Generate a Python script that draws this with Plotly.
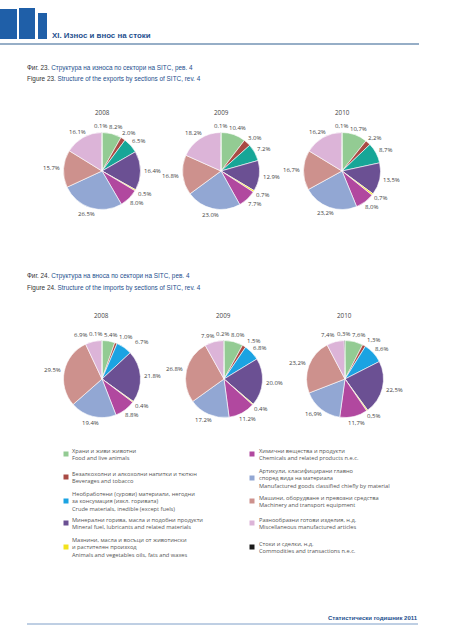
import math
import plotly.graph_objects as go

W, H = 452, 640

categories = ["Food", "Beverages", "Crude", "Mineral", "Oils", "Chemicals",
              "Manufactured", "Machinery", "Misc", "Commodities"]
years = ["2008", "2009", "2010"]

exp_2008 = [8.2, 2.0, 6.5, 16.4, 0.5, 8.0, 26.5, 15.7, 16.1, 0.1]
exp_2009 = [10.4, 3.0, 7.2, 12.9, 0.7, 7.7, 23.0, 16.8, 18.2, 0.1]
exp_2010 = [10.7, 2.2, 8.7, 13.5, 0.7, 8.0, 23.2, 16.7, 16.2, 0.1]

imp_2008 = [5.4, 1.0, 6.7, 21.8, 0.4, 8.8, 19.4, 29.5, 6.9, 0.1]
imp_2009 = [8.0, 1.5, 6.8, 20.0, 0.4, 11.2, 17.2, 26.8, 7.9, 0.2]
imp_2010 = [7.6, 1.3, 8.6, 22.5, 0.5, 11.7, 16.9, 23.2, 7.4, 0.3]

decimal_comma = {"2008": False, "2009": False, "2010": True}

legend_bg = ["Храни и живи животни", "Безалкохолни и алкохолни напитки и тютюн",
             "Необработени (сурови) материали, негодни<br>за консумация (изкл. горивата)",
             "Минерални горива, масла и подобни продукти",
             "Мазнини, масла и восъци от животински<br>и растителен произход",
             "Химични вещества и продукти",
             "Артикули, класифицирани главно<br>според вида на материала",
             "Машини, оборудване и превозни средства",
             "Разнообразни готови изделия, н.д.",
             "Стоки и сделки, н.д."]
legend_en = ["Food and live animals", "Beverages and tobacco",
             "Crude materials, inedible (except fuels)",
             "Mineral fuel, lubricants and related materials",
             "Animals and vegetables oils, fats and waxes",
             "Chemicals and related products n.e.c.",
             "Manufactured goods classified chiefly by material",
             "Machinery and transport equipment",
             "Miscellaneous manufactured articles",
             "Commodities and transactions n.e.c."]

colors_exp = ["#93cb93", "#a94a44", "#17a697", "#6b5093", "#f2e21c", "#b1489f",
              "#92a7d3", "#cd918d", "#dcb4d8", "#1a1a1a"]
colors_imp = ["#93cb93", "#a94a44", "#1ba3e2", "#6b5093", "#f2e21c", "#b1489f",
              "#92a7d3", "#cd918d", "#dcb4d8", "#1a1a1a"]

LBL_FONT = "Open Sans, Noto Sans, sans-serif"
LBL_SIZE = 6
NARROW = "Liberation Sans, Arial, sans-serif"
DARKBLUE = "#1d4f8e"


def px(x):
    return x / W


def py(y):
    return 1 - y / H


fig = go.Figure()
annotations = []
shapes = []


def fmt(v, comma):
    s = f"{v:.1f}%"
    return s.replace(".", ",") if comma else s


def text_width(txt):
    w = 0.0
    for ch in txt:
        if ch.isdigit():
            w += 0.572
        elif ch in ".,":
            w += 0.27
        else:
            w += 0.86
    return w * LBL_SIZE


def add_pie(values, colors, year, cx, cy, r):
    fig.add_trace(go.Pie(
        labels=categories, values=values, sort=False, direction="clockwise",
        rotation=0, marker=dict(colors=colors, line=dict(color="white", width=0.6)),
        textinfo="none", hole=0, showlegend=False,
        domain=dict(x=[px(cx - r), px(cx + r)], y=[py(cy + r), py(cy - r)]),
    ))
    # outside percentage labels around each slice's mid-angle (Excel "outside end")
    total = sum(values)
    cum = 0.0
    boxes = []
    for v in values:
        theta = 2 * math.pi * (cum + v / 2) / total
        cum += v
        s, c = math.sin(theta), math.cos(theta)
        txt = fmt(v, decimal_comma[year])
        w = text_width(txt)
        h = 6.0
        d = r + 3.5
        bx = cx + d * s + (w / 2) * s
        by = cy - d * c - (h / 2) * c
        boxes.append([bx, by, w, h, c, txt])
    # simple overlap relaxation
    for _ in range(80):
        moved = False
        for i in range(len(boxes)):
            for j in range(i + 1, len(boxes)):
                a, b = boxes[i], boxes[j]
                ox = (a[2] + b[2]) / 2 + 1.5 - abs(a[0] - b[0])
                oy = (a[3] + b[3]) / 2 - 0.5 - abs(a[1] - b[1])
                if ox > 0 and oy > 0:
                    moved = True
                    if abs(a[4]) > 0.5 and abs(b[4]) > 0.5:
                        sgn = 1 if a[0] >= b[0] else -1
                        a[0] += sgn * (ox / 2 + 0.1)
                        b[0] -= sgn * (ox / 2 + 0.1)
                    else:
                        sgn = 1 if a[1] >= b[1] else -1
                        a[1] += sgn * (oy / 2 + 0.1)
                        b[1] -= sgn * (oy / 2 + 0.1)
        if not moved:
            break
    for bx, by, w, h, c, txt in boxes:
        annotations.append(dict(text=txt, x=px(bx), y=py(by), xanchor="center",
                                yanchor="middle", showarrow=False, borderpad=0,
                                font=dict(family=LBL_FONT, size=LBL_SIZE, color="#444")))


exp_sets = [exp_2008, exp_2009, exp_2010]
imp_sets = [imp_2008, imp_2009, imp_2010]
exp_cx = [102, 221, 342]
imp_cx = [102, 224, 345]
R = 38.5
for i, y in enumerate(years):
    add_pie(exp_sets[i], colors_exp, y, exp_cx[i], 171, R)
    add_pie(imp_sets[i], colors_imp, y, imp_cx[i], 379, R)

# header bars
for x0, x1, y0 in [(0, 17, 9), (19, 35, 8), (38, 47, 13)]:
    shapes.append(dict(type="rect", xref="paper", yref="paper", x0=px(x0), x1=px(x1),
                       y0=py(39), y1=py(y0), fillcolor="#1f5fa8", line=dict(width=0)))
shapes.append(dict(type="line", xref="paper", yref="paper", x0=0, x1=px(419),
                   y0=py(44), y1=py(44), line=dict(color="#2f5f8f", width=1.2)))
annotations.append(dict(text="<b>XI. Износ и внос на стоки</b>", x=px(50), y=py(35),
                        xanchor="left", yanchor="middle", showarrow=False,
                        font=dict(family=NARROW, size=7.9, color=DARKBLUE)))

# captions
caps = [("Фиг. 23.", " Структура на износа по сектори на SITC, рев. 4", 68),
        ("Figure 23.", " Structure of the exports by sections of SITC, rev. 4", 79),
        ("Фиг. 24.", " Структура на вноса по сектори на SITC, рев. 4", 276),
        ("Figure 24.", " Structure of the imports by sections of SITC, rev. 4", 288)]
for a, b, yy in caps:
    annotations.append(dict(text=f"<span style='color:#333'>{a}</span>"
                                 f"<span style='color:{DARKBLUE}'>{b}</span>",
                            x=px(25), y=py(yy), xanchor="left", yanchor="middle",
                            showarrow=False, font=dict(family=NARROW, size=6.4)))

# year titles
for i, y in enumerate(years):
    annotations.append(dict(text=y, x=px(exp_cx[i]), y=py(113), showarrow=False,
                            xanchor="center", yanchor="middle",
                            font=dict(family=LBL_FONT, size=6.3, color="#444")))
    annotations.append(dict(text=y, x=px(imp_cx[i] - 1), y=py(315), showarrow=False,
                            xanchor="center", yanchor="middle",
                            font=dict(family=LBL_FONT, size=6.3, color="#444")))

# legend
legend_rows = [(0, 66, 70, 454), (1, 66, 70, 477), (2, 66, 70, 501), (3, 66, 70, 523),
               (4, 66, 70, 547), (5, 252, 257, 454), (6, 252, 257, 478),
               (7, 252, 257, 501), (8, 252, 257, 523), (9, 252, 257, 547)]
for idx, sx, tx, yy in legend_rows:
    shapes.append(dict(type="rect", xref="paper", yref="paper", x0=px(sx - 2.5),
                       x1=px(sx + 2.5), y0=py(yy + 2.5), y1=py(yy - 2.5),
                       fillcolor=colors_imp[idx], line=dict(width=0)))
    annotations.append(dict(text=legend_bg[idx] + "<br>" + legend_en[idx],
                            x=px(tx), y=py(yy), xanchor="left", yanchor="middle",
                            align="left", showarrow=False,
                            font=dict(family=LBL_FONT, size=5.7, color="#555")))

# footer
annotations.append(dict(text="<b>Статистически годишник 2011</b>", x=px(420), y=py(618),
                        xanchor="right", yanchor="middle", showarrow=False,
                        font=dict(family=NARROW, size=6, color=DARKBLUE)))
shapes.append(dict(type="line", xref="paper", yref="paper", x0=px(27), x1=px(418),
                   y0=py(624), y1=py(624), line=dict(color="#7f9fc8", width=1)))

fig.update_layout(width=W, height=H, margin=dict(l=0, r=0, t=0, b=0),
                  paper_bgcolor="white", plot_bgcolor="white",
                  annotations=annotations, shapes=shapes)

fig.write_html("out.html", config={"displayModeBar": False},
               post_script="document.body.style.margin='0';")
